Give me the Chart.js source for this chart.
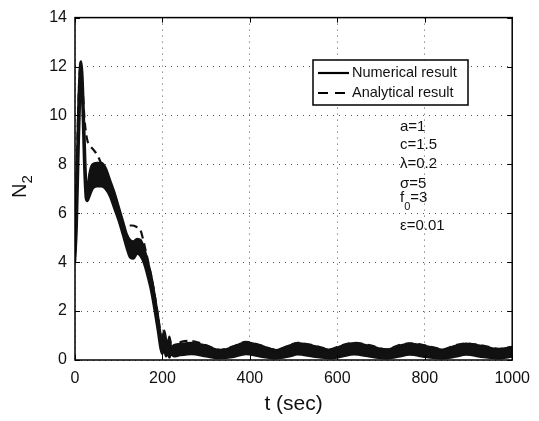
<!DOCTYPE html>
<html>
<head>
<meta charset="utf-8">
<script src="https://cdn.jsdelivr.net/npm/chart.js@4"></script>
<style>
  html, body { margin: 0; padding: 0; background: #fff; }
  #wrap { width: 539px; height: 421px; }
</style>
</head>
<body>
<div id="wrap"><canvas id="n2Chart" width="539" height="421"></canvas></div>
<script>
// Resultado numérico: banda de oscilación rápida (envolvente superior e inferior)
const tNum = [0, 4, 8, 12, 14, 17, 21, 25, 28, 33, 40, 50, 60, 70, 80, 90, 100, 110, 118, 126,
    134, 142, 150, 158, 166, 174, 182, 190, 196, 200, 204, 208, 212, 216, 220, 226, 240, 267, 300, 332,
    360, 391, 425, 460, 490, 509, 545, 584, 610, 638, 675, 713, 740, 765, 805, 842, 870, 894, 935, 970, 1000];
const numSuperior = [4.4, 7.5, 10.5, 12.1, 12.2, 11.6, 9.5, 7.4, 6.9, 7.6, 8.0, 8.05, 8.05, 7.85, 7.35, 6.85, 6.25, 5.65, 5.15, 4.9,
    4.85, 4.95, 4.9, 4.55, 4.05, 3.45, 2.65, 1.75, 1.0, 0.9, 1.2, 0.85, 0.6, 0.95, 0.5, 0.6, 0.65, 0.7, 0.58, 0.4,
    0.52, 0.72, 0.58, 0.4, 0.58, 0.68, 0.57, 0.42, 0.57, 0.68, 0.57, 0.42, 0.57, 0.66, 0.55, 0.42, 0.57, 0.66, 0.55, 0.44, 0.52];
const numInferior = [4.0, 5.5, 8.5, 11.0, 11.5, 10.5, 8.0, 6.6, 6.5, 6.7, 7.0, 7.1, 7.1, 7.0, 6.7, 6.2, 5.7, 5.1, 4.6, 4.2,
    4.15, 4.35, 4.25, 3.95, 3.45, 2.85, 2.05, 1.15, 0.45, 0.25, 0.5, 0.15, 0.3, 0.1, 0.25, 0.15, 0.2, 0.25, 0.15, 0.08,
    0.12, 0.25, 0.14, 0.07, 0.15, 0.23, 0.14, 0.07, 0.14, 0.23, 0.14, 0.07, 0.14, 0.22, 0.12, 0.07, 0.14, 0.22, 0.12, 0.07, 0.14];

// Resultado analítico
const tAna = [0, 5, 10, 13, 17, 22, 28, 35, 42, 52, 65, 80, 95, 108, 118, 130, 140, 150, 160, 170,
    180, 190, 198, 204, 210, 216, 222, 230, 245, 265, 300, 332, 360, 391, 425, 460, 490, 509, 545, 584,
    610, 638, 675, 713, 740, 765, 805, 842, 870, 894, 935, 970, 1000];
const anaValores = [4.2, 8.5, 11.5, 12.0, 11.2, 9.8, 9.0, 8.75, 8.6, 8.35, 7.8, 7.1, 6.3, 5.6, 5.5, 5.5, 5.45, 5.3, 4.6, 3.8,
    2.9, 1.8, 0.9, 1.0, 0.3, 0.9, 0.4, 0.6, 0.75, 0.78, 0.6, 0.42, 0.55, 0.74, 0.6, 0.42, 0.6, 0.7, 0.6, 0.44,
    0.6, 0.7, 0.6, 0.44, 0.6, 0.68, 0.58, 0.44, 0.6, 0.68, 0.58, 0.46, 0.54];

// Ejes
const xTicks = [0, 200, 400, 600, 800, 1000];
const yTicks = [0, 2, 4, 6, 8, 10, 12, 14];

// Textos
const leyenda = ['Numerical result', 'Analytical result'];
const parametros = [
    ['a=1'], ['c=1.5'], ['\u03bb=0.2'], ['\u03c3=5'], ['f', '0', '=3'], ['\u03b5=0.01']
];

const FUENTE = "'Liberation Sans', Arial, Helvetica, sans-serif";

function puntos(ts, vs) {
    return ts.map((t, i) => ({ x: t, y: vs[i] }));
}

/**
 * Marco, marcas interiores, leyenda, parámetros y rótulos de los ejes
 */
const decoracion = {
    id: 'decoracion',
    afterDraw(chart) {
        const ctx = chart.ctx;
        const area = chart.chartArea;
        const sx = chart.scales.x;
        const sy = chart.scales.y;
        ctx.save();

        // Marcas hacia dentro en los cuatro lados
        ctx.strokeStyle = '#000';
        ctx.lineWidth = 1;
        ctx.setLineDash([]);
        const largo = 5;
        xTicks.forEach(v => {
            const px = Math.round(sx.getPixelForValue(v)) + 0.5;
            ctx.beginPath();
            ctx.moveTo(px, area.bottom); ctx.lineTo(px, area.bottom - largo);
            ctx.moveTo(px, area.top); ctx.lineTo(px, area.top + largo);
            ctx.stroke();
        });
        yTicks.forEach(v => {
            const py = Math.round(sy.getPixelForValue(v)) + 0.5;
            ctx.beginPath();
            ctx.moveTo(area.left, py); ctx.lineTo(area.left + largo, py);
            ctx.moveTo(area.right, py); ctx.lineTo(area.right - largo, py);
            ctx.stroke();
        });

        // Marco
        ctx.lineWidth = 1.5;
        ctx.strokeRect(area.left, area.top, area.right - area.left, area.bottom - area.top);

        // Leyenda
        const lx = 313, ly = 60, lw = 155, lh = 45;
        ctx.fillStyle = '#fff';
        ctx.fillRect(lx, ly, lw, lh);
        ctx.lineWidth = 1.5;
        ctx.strokeRect(lx, ly, lw, lh);
        ctx.lineWidth = 2.2;
        ctx.beginPath();
        ctx.moveTo(318, 73); ctx.lineTo(349, 73);
        ctx.stroke();
        ctx.setLineDash([10, 7]);
        ctx.beginPath();
        ctx.moveTo(318, 93); ctx.lineTo(349, 93);
        ctx.stroke();
        ctx.setLineDash([]);
        ctx.fillStyle = '#111';
        ctx.font = '14.5px ' + FUENTE;
        ctx.textAlign = 'left';
        ctx.textBaseline = 'middle';
        ctx.fillText(leyenda[0], 352, 73);
        ctx.fillText(leyenda[1], 352, 93);

        // Parámetros
        const filas = [127, 145, 164, 184, 198, 226];
        ctx.font = '15px ' + FUENTE;
        parametros.forEach((p, i) => {
            if (p.length === 3) {
                ctx.fillText(p[0], 400, filas[i]);
                const w = ctx.measureText(p[0]).width;
                ctx.font = '11px ' + FUENTE;
                ctx.fillText(p[1], 400 + w, filas[i] + 9);
                const w2 = ctx.measureText(p[1]).width;
                ctx.font = '15px ' + FUENTE;
                ctx.fillText(p[2], 400 + w + w2, filas[i]);
            } else {
                ctx.fillText(p[0], 400, filas[i]);
            }
        });

        // Rótulo del eje x
        ctx.font = '21px ' + FUENTE;
        ctx.textAlign = 'center';
        ctx.fillText('t (sec)', (area.left + area.right) / 2, 404);

        // Rótulo del eje y (N con subíndice 2)
        ctx.translate(20, 190);
        ctx.rotate(-Math.PI / 2);
        ctx.textAlign = 'left';
        ctx.font = '20px ' + FUENTE;
        const wN = ctx.measureText('N').width;
        const x0 = -8;
        ctx.fillText('N', x0, 0);
        ctx.font = '15px ' + FUENTE;
        ctx.fillText('2', x0 + wN, 8);
        ctx.restore();
    }
};

document.addEventListener('DOMContentLoaded', function() {
    const ctx = document.getElementById('n2Chart').getContext('2d');
    new Chart(ctx, {
        type: 'line',
        data: {
            datasets: [{
                label: 'Numerical result',
                data: puntos(tNum, numSuperior),
                borderColor: '#111',
                backgroundColor: '#111',
                borderWidth: 2.5,
                pointRadius: 0,
                fill: '+1',
                cubicInterpolationMode: 'monotone'
            }, {
                label: 'Numerical result (inf)',
                data: puntos(tNum, numInferior),
                borderColor: '#111',
                borderWidth: 2.5,
                pointRadius: 0,
                fill: false,
                cubicInterpolationMode: 'monotone'
            }, {
                label: 'Analytical result',
                data: puntos(tAna, anaValores),
                borderColor: '#111',
                borderWidth: 2.2,
                borderDash: [8, 5],
                pointRadius: 0,
                fill: false,
                cubicInterpolationMode: 'monotone'
            }]
        },
        options: {
            responsive: false,
            animation: false,
            layout: { padding: { left: 0, top: 13, right: 22, bottom: 0 } },
            scales: {
                x: {
                    type: 'linear',
                    min: 0,
                    max: 1000,
                    afterFit: s => { s.height = 61; },
                    afterBuildTicks: s => { s.ticks = xTicks.map(v => ({ value: v })); },
                    ticks: {
                        color: '#111', padding: 9, maxRotation: 0,
                        font: { family: FUENTE, size: 16 },
                        callback: v => String(v)
                    },
                    grid: { color: '#555', lineWidth: 1, drawTicks: false },
                    border: { display: false, dash: [1, 5] }
                },
                y: {
                    min: 0,
                    max: 14,
                    afterFit: s => { s.width = 75; },
                    afterBuildTicks: s => { s.ticks = yTicks.map(v => ({ value: v })); },
                    ticks: {
                        color: '#111', padding: 8,
                        font: { family: FUENTE, size: 16 },
                        callback: v => String(v)
                    },
                    grid: { color: '#555', lineWidth: 1, drawTicks: false },
                    border: { display: false, dash: [1, 5] }
                }
            },
            plugins: {
                legend: { display: false },
                tooltip: { enabled: false }
            }
        },
        plugins: [decoracion]
    });
});
</script>
</body>
</html>
